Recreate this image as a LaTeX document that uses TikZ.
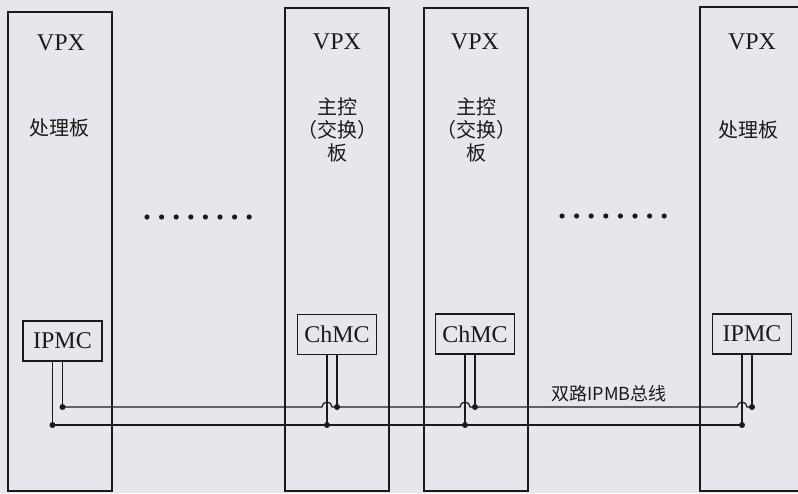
\documentclass[tikz,border=0pt]{standalone}
\usepackage{fontspec}
\setmainfont{Liberation Serif}
\newfontfamily\cjk{Noto Sans CJK SC}
\usetikzlibrary{positioning, fit, calc}
\definecolor{paper}{HTML}{E6E6EC}
\definecolor{ink}{HTML}{1A1A1A}

\begin{document}
\begin{tikzpicture}[x=0.5pt, y=-0.5pt,
    every node/.style={text=ink},
    board/.style={draw=ink, line width=0.6pt, inner sep=0pt},
    title/.style={font=\fontsize{12}{14}\selectfont},
    role/.style={font=\cjk\fontsize{10}{11.3}\selectfont, align=center},
    mc/.style={draw=ink, line width=0.6pt, fill=paper, minimum width=39.5pt,
               minimum height=20pt, inner sep=0pt,
               font=\fontsize{12}{14}\selectfont},
    bus/.style={draw=ink, line width=0.6pt},
    buslbl/.style={font=\cjk\fontsize{9}{10}\selectfont},
  ]
  \useasboundingbox (0,0) rectangle (798,493);
  \clip (0,0) rectangle (798,493);
  \fill[paper] (0,0) rectangle (798,493);

  % boards
  \node[board, fit={(8,12) (112,491)}] (p1) {};
  \node[board, fit={(285,8) (389,491)}] (p2) {};
  \node[board, fit={(424,8) (528,491)}] (p3) {};
  \node[board, fit={(700,7) (806,491)}] (p4) {};

  \node[title] (v1) at (61,43) {VPX};
  \node[title] (v2) at (337,42) {VPX};
  \node[title] (v3) at (475,42) {VPX};
  \node[title] (v4) at (752,42) {VPX};

  \node[role] (r1) at (59,128) {处理板};
  \node[role] (r2) at (337,130) {主控\\（交换）\\板};
  \node[role] (r3) at (476,130) {主控\\（交换）\\板};
  \node[role] (r4) at (748,130) {处理板};

  % gaps between boards
  \foreach \k in {0,...,7} {
    \fill[ink] (147+14.6*\k,217) circle[radius=1.3pt];
    \fill[ink] (562+14.6*\k,216) circle[radius=1.3pt];
  }

  % management controllers
  \node[mc] (m1) at (62.5,341) {IPMC};
  \node[mc] (m2) at (337,334.5) {ChMC};
  \node[mc] (m3) at (475,334) {ChMC};
  \node[mc] (m4) at (752,334) {IPMC};

  % taps on the two buses
  \coordinate (a1) at (52.5,425);
  \coordinate (b1) at (62.5,407);
  \coordinate (a2) at (327,425);
  \coordinate (b2) at (337,407);
  \coordinate (a3) at (465,425);
  \coordinate (b3) at (475,407);
  \coordinate (a4) at (742,425);
  \coordinate (b4) at (752,407);

  \foreach \i in {1,...,4} {
    \draw[bus] (m\i.south -| a\i) -- (a\i);
    \draw[bus] (m\i.south) -- (b\i);
  }

  \draw[bus] (a1) -- (a4);
  \draw[bus] (b1) -- ($(a2 |- b1)+(-5,0)$) arc[start angle=180, end angle=0, radius=2.5pt]
    -- (b2) -- ($(a3 |- b1)+(-5,0)$) arc[start angle=180, end angle=0, radius=2.5pt]
    -- (b3) -- ($(a4 |- b1)+(-5,0)$) arc[start angle=180, end angle=0, radius=2.5pt]
    -- (b4);

  \foreach \c in {a1,b1,a2,b2,a3,b3,a4,b4}
    \fill[ink] (\c) circle[radius=1.5pt];

  \node[buslbl] (lbl) at (609,394) {双路IPMB总线};
\end{tikzpicture}
\end{document}
